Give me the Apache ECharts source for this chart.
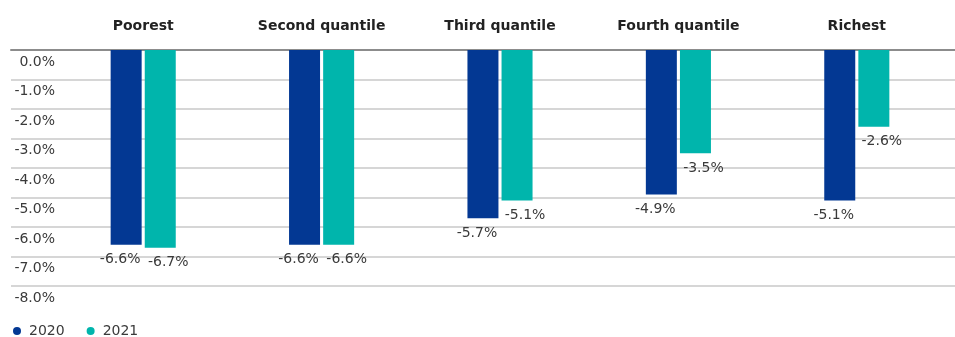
<!DOCTYPE html>
<html>
<head>
<meta charset="utf-8">
<script src="https://cdn.jsdelivr.net/npm/echarts@6/dist/echarts.min.js"></script>
<style>
  html, body { margin: 0; padding: 0; background: #fff; }
  #chart { width: 955px; height: 337px; }
</style>
</head>
<body>
<div id="chart"></div>
<script>
// Income quantiles and year-on-year change (%)
const categories = ['Poorest', 'Second quantile', 'Third quantile', 'Fourth quantile', 'Richest'];
const values2020 = [-6.6, -6.6, -5.7, -4.9, -5.1];
const values2021 = [-6.7, -6.6, -5.1, -3.5, -2.6];
const seriesNames = ['2020', '2021'];
const yTicks = { min: -8, max: 0, step: 1 };

const FONT = '"DejaVu Sans", "Noto Sans", sans-serif';
const TEXT = '#3a3a3a';
const COLORS = ['#033893', '#00B5AC'];

const chart = echarts.init(document.getElementById('chart'), null, { renderer: 'canvas' });

const pct = v => v.toFixed(1) + '%';

function barSeries(name, data, color, dx) {
  return {
    name: name,
    type: 'bar',
    xAxisIndex: 1,
    yAxisIndex: 1,
    data: data,
    barWidth: 31,
    barGap: '10%',
    itemStyle: { color: color },
    label: {
      show: true,
      position: 'bottom',
      distance: 8,
      offset: [dx, 0],
      formatter: p => pct(p.value),
      color: TEXT,
      fontFamily: FONT,
      fontSize: 14
    }
  };
}

chart.setOption({
  animation: false,
  color: COLORS,
  grid: [
    // full-width grid carrying the value gridlines and tick labels
    { left: 11, right: 0, top: 50, height: 236 },
    // category grid holding the bars
    { left: 54, right: 9, top: 50, height: 236 }
  ],
  xAxis: [
    {
      gridIndex: 0,
      type: 'category',
      position: 'top',
      data: [''],
      axisLine: { show: true, lineStyle: { color: '#8c8c8c', width: 2 } },
      axisTick: { show: false },
      axisLabel: { show: false }
    },
    {
      gridIndex: 1,
      type: 'category',
      position: 'top',
      data: categories,
      axisLine: { show: false },
      axisTick: { show: false },
      axisLabel: {
        margin: 17,
        color: '#222222',
        fontFamily: FONT,
        fontWeight: 'bold',
        fontSize: 14
      }
    }
  ],
  yAxis: [
    {
      gridIndex: 0,
      type: 'value',
      min: yTicks.min,
      max: yTicks.max,
      interval: yTicks.step,
      axisLine: { show: false },
      axisTick: { show: false },
      splitLine: { show: true, lineStyle: { color: '#c8c8c8', width: 1.5 } },
      axisLabel: {
        inside: true,
        margin: 44,
        align: 'right',
        verticalAlign: 'top',
        padding: [5, 0, 0, 0],
        formatter: v => pct(v),
        color: TEXT,
        fontFamily: FONT,
        fontSize: 14
      }
    },
    {
      gridIndex: 1,
      type: 'value',
      min: yTicks.min,
      max: yTicks.max,
      interval: yTicks.step,
      show: false,
      splitLine: { show: false }
    }
  ],
  legend: {
    left: 8,
    top: 319,
    icon: 'circle',
    itemWidth: 8,
    itemHeight: 8,
    itemGap: 22,
    data: seriesNames,
    textStyle: { color: TEXT, fontFamily: FONT, fontSize: 14, padding: [0, 0, 0, 3] }
  },
  series: [
    barSeries(seriesNames[0], values2020, COLORS[0], -6),
    barSeries(seriesNames[1], values2021, COLORS[1], 8)
  ]
});
</script>
</body>
</html>
